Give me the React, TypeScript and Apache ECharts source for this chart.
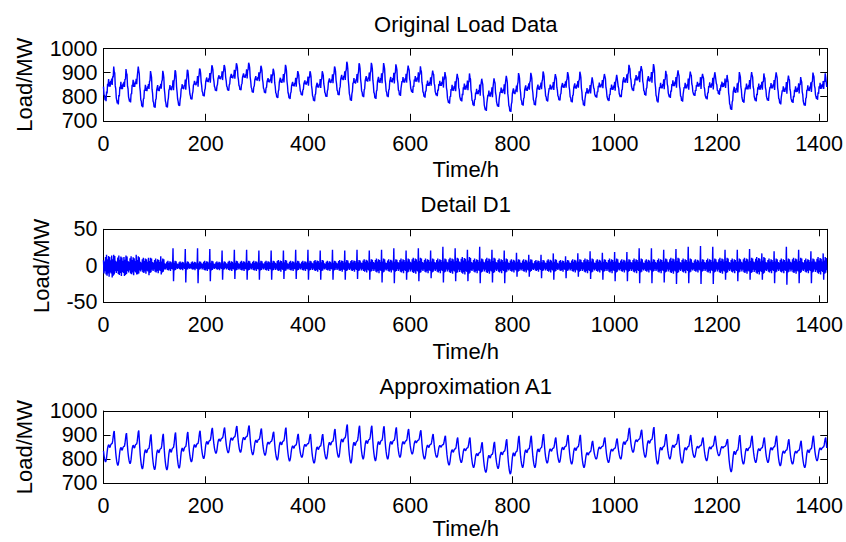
import React, { useEffect, useRef } from "react";
import * as echarts from "echarts";

// ---- data (59 days of hourly load, 1416 h) ----
const DAYS = 59;
const X_MAX = 1416;
const xTicks = [0, 200, 400, 600, 800, 1000, 1200, 1400];

// daily evening peak / early-morning trough of the approximation A1 (MW)
const dayPeak = [
  917, 908, 919, 903, 905, 911, 913, 918, 930, 931, 938, 940, 927, 914, 931, 905,
  904, 904, 925, 944, 939, 939, 937, 932, 925, 920, 904, 897, 890, 890, 870, 872,
  883, 897, 897, 904, 890, 900, 901, 876, 890, 886, 930, 922, 933, 904, 904, 900,
  890, 897, 883, 900, 897, 890, 897, 883, 876, 897, 890,
];
const dayTrough = [
  788, 774, 781, 759, 756, 755, 762, 788, 802, 824, 826, 828, 818, 816, 796, 792,
  807, 783, 800, 807, 783, 800, 793, 800, 807, 821, 800, 807, 775, 786, 765, 745,
  761, 738, 765, 765, 783, 786, 779, 765, 800, 786, 800, 828, 807, 779, 800, 783,
  807, 793, 814, 747, 779, 786, 786, 772, 779, 765, 793,
];
// typical daily shape: rise from 04h trough to 21h peak, fall from 21h peak to next 04h trough
const riseShape = [0, 0.04, 0.14, 0.3, 0.44, 0.52, 0.56, 0.53, 0.47, 0.49, 0.55, 0.58, 0.57, 0.6, 0.68, 0.82, 0.95, 1.0];
const fallShape = [1.0, 0.78, 0.55, 0.36, 0.22, 0.11, 0.04, 0];

// detail D1: daily spike (up at 16h, down at 17h) and high-frequency noise level
const spikeUp = [
  14, 12, 15, 11, 13,
  24, 23, 24, 23, 21, 22, 22, 21, 21, 21, 22, 22, 21, 22, 21, 22, 21,
  22, 24, 21, 24, 21, 26, 24, 22, 26, 22, 21, 18, 15, 15, 17, 13, 17, 20, 18,
  19, 19, 24, 24, 22, 23, 26, 27, 26, 22, 22, 23, 17, 20, 26, 22, 20, 17,
];
const spikeDown = [
  16, 14, 12, 13, 12,
  21, 23, 24, 21, 19, 18, 19, 19, 19, 18, 18, 19, 19, 19, 19, 18, 19, 23,
  24, 19, 21, 17, 23, 21, 21, 24, 23, 24, 15, 15, 17, 19, 17, 15, 18, 19,
  21, 21, 24, 24, 23, 25, 24, 25, 25, 19, 21, 19, 19, 24, 26, 24, 24, 19,
];
const noiseAmp = [
  15, 14, 13, 11, 10,
  7, 6, 6, 7, 6, 7, 7, 7,
  7, 8, 7, 7, 8, 7, 8, 8, 9,
  10, 9, 10, 11, 10, 10, 11, 12, 10, 11, 10,
  9, 9, 8, 9, 8, 9, 10, 9,
  10, 9, 10, 9, 10, 11, 10, 9, 10, 11, 10, 11, 12, 10, 10, 11, 10, 12,
];
const noiseShape = [
  0.5, -0.7, 0.4, -0.5, 0.8, -0.8, 1.0, -0.9, 0.6, -0.7, 0.9, -1.0,
  0.8, -0.6, 0.5, -0.7, 0, 0, 0.6, -0.9, 1.0, -0.8, 0.9, -0.5,
];
const SPIKE_UP_HOUR = 16;
const SPIKE_DOWN_HOUR = 17;

function approxValue(d: number, h: number): number {
  const tr = dayTrough[d];
  if (h < 4) {
    const prevPeak = d > 0 ? dayPeak[d - 1] : dayPeak[0];
    return tr + (prevPeak - tr) * fallShape[h + 3];
  }
  if (h <= 21) return tr + (dayPeak[d] - tr) * riseShape[h - 4];
  const nextTr = d < DAYS - 1 ? dayTrough[d + 1] : tr;
  return nextTr + (dayPeak[d] - nextTr) * fallShape[h - 21];
}
function detailValue(d: number, h: number): number {
  if (h === SPIKE_UP_HOUR) return spikeUp[d];
  if (h === SPIKE_DOWN_HOUR) return -spikeDown[d];
  return noiseShape[h] * noiseAmp[d];
}

const a1Data: [number, number][] = [];
const d1Data: [number, number][] = [];
const origData: [number, number][] = [];
for (let d = 0; d < DAYS; d++) {
  for (let h = 0; h < 24; h++) {
    const t = d * 24 + h;
    const a = approxValue(d, h);
    const det = detailValue(d, h);
    a1Data.push([t, +a.toFixed(1)]);
    d1Data.push([t, +det.toFixed(1)]);
    origData.push([t, +(a + det).toFixed(1)]);
  }
}

const titles = ["Original Load Data", "Detail D1", "Approximation A1"];
const yRanges = [
  { min: 700, max: 1000, interval: 100 },
  { min: -50, max: 50, interval: 50 },
  { min: 700, max: 1000, interval: 100 },
];

// ---- layout ----
const FONT = "'Liberation Sans', Arial, Helvetica, sans-serif";
const LEFT = 103.5;
const RIGHT_EDGE = 828;
const grids = [
  { top: 48.6, height: 72.2 },
  { top: 229.3, height: 73 },
  { top: 411, height: 72.3 },
];
const yNameX = [24, 41, 24];
const xNameGap = [49, 49, 45];
const BLUE = "#0000ff";

export default function App() {
  const ref = useRef<HTMLDivElement>(null);
  useEffect(() => {
    if (!ref.current) return;
    const chart = echarts.init(ref.current, null, { renderer: "svg" });
    const cx = (LEFT + RIGHT_EDGE) / 2;
    const axisLine = { show: true, onZero: false, lineStyle: { color: "#000", width: 1 } };
    const tick = { show: true, inside: true, length: 7, lineStyle: { color: "#000", width: 1 } };
    const xAxes: any[] = [];
    const yAxes: any[] = [];
    const series: any[] = [];
    const graphics: any[] = [];
    const datas = [origData, d1Data, a1Data];
    grids.forEach((g, i) => {
      ["bottom", "top"].forEach((pos) => {
        xAxes.push({
          type: "value",
          gridIndex: i,
          position: pos,
          min: 0,
          max: X_MAX,
          interval: 200,
          axisLine,
          axisTick: tick,
          splitLine: { show: false },
          axisLabel: {
            show: pos === "bottom",
            color: "#000",
            fontSize: 21.5,
            fontFamily: FONT,
            margin: 12,
            showMaxLabel: false,
            formatter: (v: number) => (xTicks.includes(v) ? String(v) : ""),
          },
        });
      });
      ["left", "right"].forEach((pos) => {
        yAxes.push({
          type: "value",
          gridIndex: i,
          position: pos,
          min: yRanges[i].min,
          max: yRanges[i].max,
          interval: yRanges[i].interval,
          axisLine,
          axisTick: tick,
          splitLine: { show: false },
          axisLabel: {
            show: pos === "left",
            color: "#000",
            fontSize: 21.5,
            fontFamily: FONT,
            margin: 6,
            formatter: (v: number) => String(v),
          },
        });
      });
      series.push({
        type: "line",
        xAxisIndex: i * 2,
        yAxisIndex: i * 2,
        data: datas[i],
        showSymbol: false,
        symbol: "none",
        lineStyle: { color: BLUE, width: 1.4 },
        silent: true,
      });
      const bottom = g.top + g.height;
      graphics.push(
        {
          type: "text",
          x: cx,
          y: g.top - 24.4,
          style: { text: titles[i], fill: "#000", font: `22px ${FONT}`, textAlign: "center", textVerticalAlign: "middle" },
        },
        {
          type: "text",
          x: cx,
          y: bottom + xNameGap[i],
          style: { text: "Time/h", fill: "#000", font: `22px ${FONT}`, textAlign: "center", textVerticalAlign: "middle" },
        },
        {
          type: "text",
          x: yNameX[i],
          y: g.top + g.height / 2,
          rotation: Math.PI / 2,
          style: { text: "Load/MW", fill: "#000", font: `22px ${FONT}`, textAlign: "center", textVerticalAlign: "middle" },
        }
      );
    });
    chart.setOption({
      animation: false,
      backgroundColor: "#fff",
      grid: grids.map((g) => ({ left: LEFT, width: RIGHT_EDGE - LEFT, top: g.top, height: g.height, containLabel: false })),
      xAxis: xAxes,
      yAxis: yAxes,
      series,
      graphic: graphics,
    });
    return () => chart.dispose();
  }, []);
  return (
    <div
      ref={ref}
      style={{ position: "absolute", left: 0, top: 0, width: 846, height: 542, background: "#fff" }}
    />
  );
}
